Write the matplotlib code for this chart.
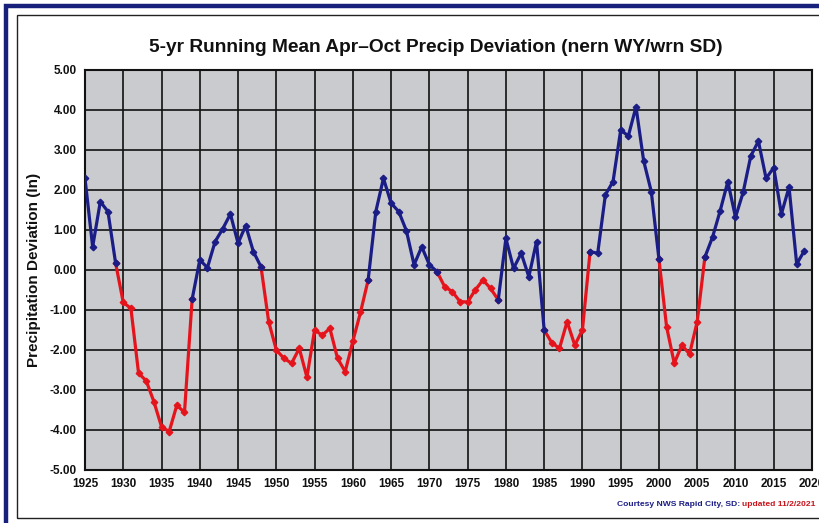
import matplotlib
matplotlib.use("Agg")
import matplotlib.pyplot as plt
from matplotlib.patches import Rectangle
import numpy as np

# 5-yr running mean Apr-Oct precip deviation (inches), 1925-2019
years = list(range(1925, 2020))
deviation = [
    2.29, 0.58, 1.71, 1.46, 0.17, -0.81, -0.96, -2.58, -2.77, -3.29,   # 1925-1934
    -3.92, -4.04, -3.38, -3.56, -0.73, 0.25, 0.06, 0.71, 1.03, 1.40,   # 1935-1944
    0.67, 1.11, 0.46, 0.08, -1.29, -2.00, -2.21, -2.33, -1.96, -2.68,  # 1945-1954
    -1.50, -1.63, -1.46, -2.21, -2.54, -1.78, -1.06, -0.25, 1.46, 2.29,  # 1955-1964
    1.67, 1.46, 0.98, 0.13, 0.58, 0.13, -0.04, -0.42, -0.54, -0.79,    # 1965-1974
    -0.80, -0.50, -0.25, -0.46, -0.75, 0.79, 0.04, 0.42, -0.17, 0.71,  # 1975-1984
    -1.50, -1.82, -1.96, -1.29, -1.88, -1.50, 0.46, 0.42, 1.88, 2.21,  # 1985-1994
    3.50, 3.35, 4.08, 2.73, 1.96, 0.27, -1.42, -2.33, -1.88, -2.10,    # 1995-2004
    -1.29, 0.32, 0.82, 1.48, 2.21, 1.32, 1.94, 2.85, 3.22, 2.29,       # 2005-2014
    2.56, 1.40, 2.07, 0.15, 0.48,                                      # 2015-2019
]
# stretches drawn in red (dry periods)
dry_spans = [(1929, 1939), (1948, 1962), (1971, 1979), (1985, 1991), (2000, 2006)]

x_ticks = list(range(1925, 2021, 5))
y_ticks = np.arange(-5, 5.01, 1)

blue = "#1b1d86"
red = "#e5141c"
font = "Liberation Sans"

fig = plt.figure(figsize=(8.2, 5.23), dpi=100)
W, H = 820, 523

# scanned-page frame
fig.add_artist(Rectangle((6 / W, -0.02), 1.1, 1 - 5.5 / H + 0.02, transform=fig.transFigure,
                         fill=False, edgecolor="#17207a", lw=3.2))
fig.add_artist(Rectangle((17 / W, 1 - 518 / H), 1.1, (518 - 15) / H, transform=fig.transFigure,
                         fill=False, edgecolor="#222222", lw=1.0))

ax = fig.add_axes([85 / W, 1 - 470 / H, (812 - 85) / W, (470 - 70) / H])
ax.set_facecolor("#c9cbce")

# red stretches first, blue on top so the joining markers stay blue like the original
for a, b in dry_spans:
    i0, i1 = years.index(a), years.index(b)
    ax.plot(years[i0:i1 + 1], deviation[i0:i1 + 1], color=red, lw=2.3,
            marker="D", ms=3.3, zorder=3)
wet = [years[0]]
for a, b in dry_spans:
    wet += [a, b]
wet.append(years[-1])
for a, b in zip(wet[::2], wet[1::2]):
    i0, i1 = years.index(a), years.index(b)
    ax.plot(years[i0:i1 + 1], deviation[i0:i1 + 1], color=blue, lw=2.3,
            marker="D", ms=3.3, zorder=4)

ax.set_xlim(1925, 2020)
ax.set_ylim(-5, 5)
ax.set_xticks(x_ticks)
ax.set_yticks(y_ticks)
ax.set_yticklabels(["%.2f" % v for v in y_ticks])
ax.grid(True, color="#111111", lw=1.2)
ax.set_axisbelow(True)
for s in ax.spines.values():
    s.set_color("#111111")
    s.set_linewidth(1.5)
ax.tick_params(length=0, pad=6)
for lab in ax.get_xticklabels() + ax.get_yticklabels():
    lab.set_fontfamily(font)
    lab.set_fontweight("bold")
    lab.set_fontsize(8.5)
    lab.set_color("#111111")

ax.set_ylabel("Precipitation Deviation (In)", fontfamily=font, fontweight="bold",
              fontsize=11, color="#111111", labelpad=6)
fig.text(436 / W, 1 - 47 / H, "5-yr Running Mean Apr\u2013Oct Precip Deviation (nern WY/wrn SD)",
         ha="center", va="center", fontfamily=font, fontweight="bold", fontsize=13.8,
         color="#111111")

credit = fig.text(617 / W, 1 - 505 / H, "Courtesy NWS Rapid City, SD: ", ha="left", va="center",
                  fontfamily="Liberation Sans", fontweight="bold", fontsize=6.1, color="#1b1d86")
fig.text(0, 0, "updated 11/2/2021", transform=credit.get_transform(), ha="left", va="center",
         fontfamily="Liberation Sans", fontweight="bold", fontsize=6.1, color="#c8141c")
fig.canvas.draw()
bb = credit.get_window_extent().transformed(fig.transFigure.inverted())
fig.texts[-1].set_position((bb.x1, 1 - 505 / H))

fig.savefig("out.png", dpi=100)
